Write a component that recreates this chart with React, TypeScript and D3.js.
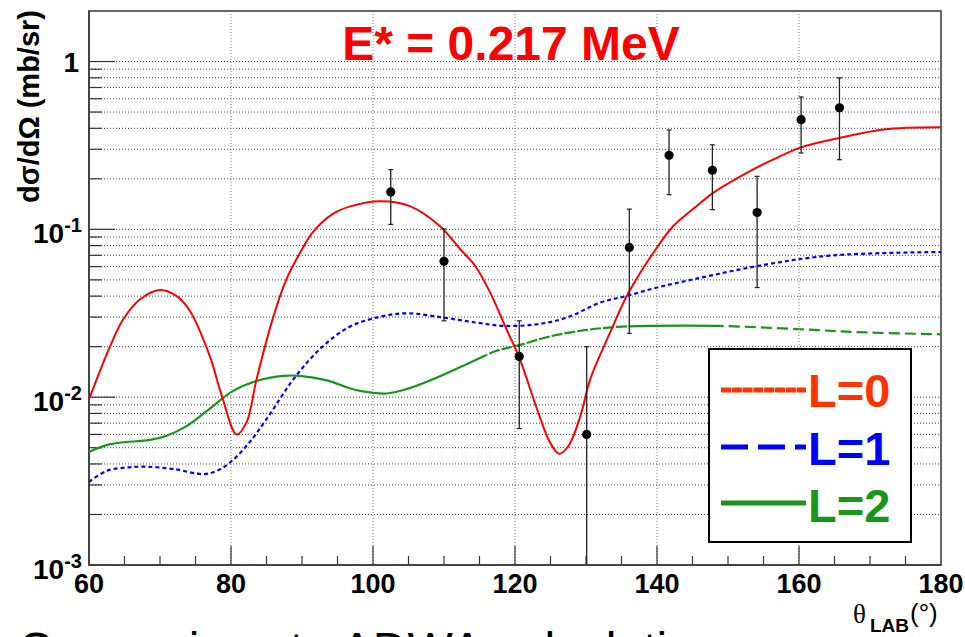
import React from "react";
import * as d3 from "d3";

// Theoretical angular distributions (degrees, mb/sr)
const angleL0 = [60, 63, 64.8, 67.2, 70, 72.3, 74.2, 77.0, 78.7, 80.8, 82.2, 83.6, 86.0, 87.8, 90.0, 91.5, 94.4, 96.8, 101, 105.2, 109.4, 112.3, 114.4, 116.5, 118.8, 120.6, 123.1, 124.9, 126.2, 127.5, 129.2, 130.6, 133.4, 136.0, 140.0, 142.3, 145.6, 147.9, 152.2, 156.4, 160.1, 165.8, 171.9, 180];
const sigmaL0 = [0.0097, 0.0202, 0.0290, 0.0383, 0.0435, 0.0401, 0.0327, 0.0176, 0.0102, 0.0060, 0.0071, 0.0128, 0.0305, 0.0504, 0.076, 0.096, 0.124, 0.137, 0.147, 0.1376, 0.1047, 0.076, 0.0605, 0.042, 0.0254, 0.0172, 0.0085, 0.0054, 0.0046, 0.0051, 0.0077, 0.0128, 0.0243, 0.042, 0.078, 0.1047, 0.1376, 0.165, 0.212, 0.261, 0.306, 0.351, 0.394, 0.406];

const angleL1 = [60, 62.5, 65.3, 68.1, 71.9, 76.1, 78.0, 79.9, 82.2, 85.0, 88.8, 92.5, 96.5, 100.5, 104.7, 109.9, 114.6, 118.4, 123.1, 127.3, 132.0, 135.7, 140.0, 145.6, 155.5, 164.8, 180];
const sigmaL1 = [0.00313, 0.00364, 0.00381, 0.00385, 0.00373, 0.00348, 0.00364, 0.00409, 0.00513, 0.0074, 0.0128, 0.0193, 0.026, 0.0298, 0.0316, 0.0298, 0.0278, 0.0266, 0.0272, 0.0298, 0.0366, 0.0401, 0.045, 0.0509, 0.0619, 0.070, 0.0733];

const angleL2 = [60, 63, 68.6, 70.9, 73.8, 76.6, 80.3, 83.6, 87.4, 89.7, 93.5, 96.8, 98.2, 101.9, 104.7, 109.0, 113.7, 117.4, 120.2, 124.9, 129.6, 134.3, 139.0, 148.4, 160.1, 169.5, 180];
const sigmaL2 = [0.00472, 0.00525, 0.00557, 0.00589, 0.00675, 0.00828, 0.0109, 0.0125, 0.0134, 0.0134, 0.0126, 0.01127, 0.0109, 0.01052, 0.01116, 0.0131, 0.0161, 0.0189, 0.0202, 0.023, 0.025, 0.0262, 0.0266, 0.0266, 0.0254, 0.0243, 0.0237];

// Measured cross sections with symmetric errors
const dataAngle = [102.5, 110.0, 120.6, 130.1, 136.1, 141.7, 147.8, 154.1, 160.3, 165.7];
const dataSigma = [0.167, 0.0645, 0.0175, 0.0060, 0.078, 0.276, 0.225, 0.126, 0.45, 0.53];
const dataError = [0.060, 0.036, 0.011, 0.014, 0.054, 0.115, 0.094, 0.081, 0.165, 0.27];

const xTickValues = [60, 80, 100, 120, 140, 160, 180];
const yDecades = [-3, -2, -1, 0];
const legendLabels = ["L=0", "L=1", "L=2"];
const titleText = "E* = 0.217 MeV";
const yTitle = "dσ/dΩ (mb/sr)";
const footerText = "Comparison to ADWA calculations";

const W = 965;
const H = 637;
const left = 89, right = 941, top = 11, bottom = 565;
const SANS = "'Liberation Sans', Arial, Helvetica, sans-serif";

export default function App() {
  const x = d3.scaleLinear().domain([60, 180]).range([left, right]);
  const y = d3.scaleLog().domain([1e-3, 2]).range([bottom, top]);

  const line = d3
    .line<[number, number]>()
    .x((d) => x(d[0]))
    .y((d) => y(d[1]))
    .curve(d3.curveCatmullRom.alpha(0.5));

  const pathL0 = line(angleL0.map((a, i) => [a, sigmaL0[i]]))!;
  const pathL1 = line(angleL1.map((a, i) => [a, sigmaL1[i]]))!;
  const pathL2 = line(angleL2.map((a, i) => [a, sigmaL2[i]]))!;

  // horizontal grid / tick positions: every m * 10^k inside the domain
  const yTicks: { v: number; major: boolean }[] = [];
  yDecades.forEach((k) => {
    for (let m = 1; m <= 9; m++) {
      const v = m * Math.pow(10, k);
      if (v <= 2) yTicks.push({ v, major: m === 1 });
    }
  });
  const xMinor = d3.range(60, 181, 5);

  // L=2 curve changes its dash style along the angle range
  const greenSegments: { from: number; to: number; dash: string | undefined }[] = [
    { from: 60, to: 116, dash: undefined },
    { from: 116, to: 136, dash: "11,2" },
    { from: 136, to: 149, dash: undefined },
    { from: 149, to: 180, dash: "11,5" },
  ];

  const red = "#ff0000";
  const blue = "#0000ff";
  const green = "#17961b";

  const legendX0 = 721, legendX1 = 806;
  const legendRows = [
    { label: legendLabels[0], color: "#ff3300", dash: "10,0.8", y: 390, base: 407 },
    { label: legendLabels[1], color: blue, dash: "27,10", y: 447, base: 465 },
    { label: legendLabels[2], color: green, dash: undefined, y: 503, base: 522 },
  ];

  return (
    <svg
      width={W}
      height={H}
      style={{ position: "absolute", left: 0, top: 0, display: "block" }}
      fontFamily={SANS}
    >
      <defs>
        <clipPath id="plotArea">
          <rect x={left} y={top} width={right - left} height={bottom - top} />
        </clipPath>
        {greenSegments.map((s, i) => (
          <clipPath id={`greenSeg${i}`} key={i}>
            <rect x={x(s.from)} y={top} width={x(s.to) - x(s.from)} height={bottom - top} />
          </clipPath>
        ))}
      </defs>
      <rect x={0} y={0} width={W} height={H} fill="#fff" />

      {/* grid */}
      {yTicks.map((t, i) => (
        <line key={`hg${i}`} x1={left} x2={right} y1={y(t.v)} y2={y(t.v)} stroke="#444" strokeWidth={1} strokeDasharray="1,2" />
      ))}
      {xTickValues.slice(1, -1).map((v) => (
        <line key={`vg${v}`} x1={x(v)} x2={x(v)} y1={top} y2={bottom} stroke="#777" strokeWidth={1} strokeDasharray="1,2" />
      ))}

      {/* ticks */}
      {yTicks.map((t, i) => (
        <line key={`yt${i}`} x1={left} x2={left + (t.major ? 26 : 13)} y1={y(t.v)} y2={y(t.v)} stroke="#333" strokeWidth={1.2} />
      ))}
      {xMinor.map((v) => (
        <line key={`xt${v}`} x1={x(v)} x2={x(v)} y1={bottom} y2={bottom - (v % 20 === 0 ? 19 : 9)} stroke="#333" strokeWidth={1.2} />
      ))}

      {/* frame */}
      <rect x={left} y={top} width={right - left} height={bottom - top} fill="none" stroke="#666" strokeWidth={2} />
      <line x1={left} x2={left} y1={top} y2={bottom} stroke="#444" strokeWidth={2} />
      <line x1={left} x2={right} y1={bottom} y2={bottom} stroke="#444" strokeWidth={2} />

      {/* curves */}
      <g clipPath="url(#plotArea)" fill="none">
        <path d={pathL1} stroke={blue} strokeWidth={2.2} strokeDasharray="4,3" />
        {greenSegments.map((s, i) => (
          <g key={i} clipPath={`url(#greenSeg${i})`}>
            <path d={pathL2} stroke={green} strokeWidth={2.2} strokeDasharray={s.dash} />
          </g>
        ))}
        <path d={pathL0} stroke={red} strokeWidth={2} />
      </g>

      {/* data points */}
      <g>
        {dataAngle.map((a, i) => {
          const v = dataSigma[i];
          const e = dataError[i];
          const hi = v + e;
          const loClipped = v - e <= 1e-3;
          const yHi = y(hi);
          const yLo = loClipped ? bottom : y(v - e);
          const cx = x(a);
          return (
            <g key={i}>
              <line x1={cx} x2={cx} y1={yHi} y2={yLo} stroke="#222" strokeWidth={1.3} />
              <line x1={cx - 2.5} x2={cx + 2.5} y1={yHi} y2={yHi} stroke="#222" strokeWidth={1.2} />
              {!loClipped && <line x1={cx - 2.5} x2={cx + 2.5} y1={yLo} y2={yLo} stroke="#222" strokeWidth={1.2} />}
              <circle cx={cx} cy={y(v)} r={4.6} fill="#000" />
            </g>
          );
        })}
      </g>

      {/* y tick labels */}
      {yDecades.map((k) => {
        const py = y(Math.pow(10, k));
        if (k === 0) {
          return (
            <text key={k} x={79} y={py + 10} textAnchor="end" fontSize={28} fontWeight="bold">
              1
            </text>
          );
        }
        return (
          <text key={k} x={82} y={py + 14} textAnchor="end" fontSize={28} fontWeight="bold">
            10
            <tspan fontSize={20} dy={-11}>{`-${-k}`}</tspan>
          </text>
        );
      })}

      {/* x tick labels */}
      {xTickValues.map((v) => (
        <text key={v} x={x(v)} y={593} textAnchor="middle" fontSize={27} fontWeight="bold">
          {v}
        </text>
      ))}

      {/* axis titles */}
      <text transform="translate(39,10) rotate(-90)" textAnchor="end" fontSize={29} fontWeight="bold">
        {yTitle}
      </text>
      <text x={853} y={623} fontSize={27} fontFamily="'Liberation Serif', 'DejaVu Serif', serif">
        θ
      </text>
      <text x={870} y={632} fontSize={19} fontWeight="bold">
        LAB
      </text>
      <text x={910} y={622} fontSize={26}>
        (°)
      </text>

      {/* title */}
      <text x={511} y={60} textAnchor="middle" fontSize={48} fontWeight="bold" fill={red}>
        {titleText}
      </text>

      {/* legend */}
      <rect x={709} y={349} width={202} height={193} fill="#fff" stroke="#000" strokeWidth={2} />
      {legendRows.map((r) => (
        <g key={r.label}>
          <line x1={legendX0} x2={legendX1} y1={r.y} y2={r.y} stroke={r.color} strokeWidth={5} strokeDasharray={r.dash} />
          <text x={808} y={r.base} fontSize={47} fontWeight="bold" fill={r.color}>
            {r.label}
          </text>
        </g>
      ))}

      {/* caption continuing below the plot */}
      <text x={18} y={666} fontSize={48} fill="#000">
        {footerText}
      </text>
    </svg>
  );
}
